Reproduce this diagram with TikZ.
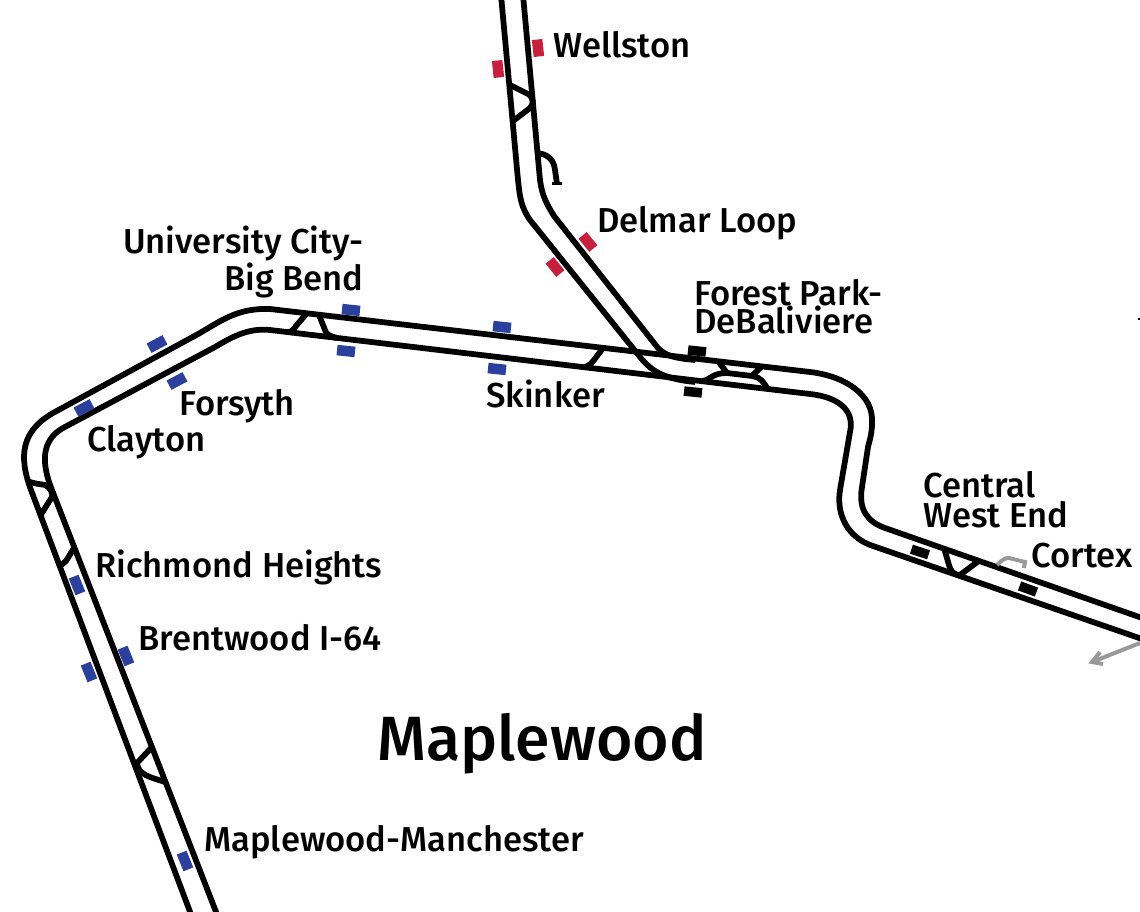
\documentclass[tikz,border=0pt]{standalone}
\usepackage{fontspec}
\setmainfont{Fira Sans Medium}
\definecolor{lineblue}{HTML}{2B3F9C}
\definecolor{linered}{HTML}{C8203C}
\definecolor{spurgray}{HTML}{999999}
\tikzset{
    TR/.style ={line width=0.115cm, black},
    SP/.style ={line width=0.08cm, spurgray},
    STB/.style ={rectangle, minimum width=0.36cm, minimum height=0.21cm, inner sep=0pt, fill=lineblue},
    STR/.style ={rectangle, minimum width=0.34cm, minimum height=0.21cm, inner sep=0pt, fill=linered},
    STK/.style ={rectangle, minimum width=0.36cm, minimum height=0.19cm, inner sep=0pt, fill=black},
    LB/.style ={font=\fontsize{19.7}{22}\selectfont, anchor=base west, inner sep=0pt},
    LL/.style ={font=\fontsize{19.7}{19.4}\selectfont, inner sep=0pt}
}
\begin{document}
\begin{tikzpicture}[x=0.02cm,y=-0.02cm]
    \useasboundingbox (0,0) rectangle (1140,912);
    % main line
    \draw[TR] (192,917) -- (31,490) .. controls (18,455) and (22,431) .. (53,413) -- (200,333)
        .. controls (225,318) and (240,308) .. (270,309) -- (810,372)
        .. controls (845,376) and (874,395) .. (872,423) .. controls (872,435) and (869,442) .. (868,447)
        -- (862,487) .. controls (858,510) and (868,522) .. (885,528) -- (1145,619);
    \draw[TR] (218,917) -- (52,490) .. controls (42,465) and (40,441) .. (63,428) -- (215,347)
        .. controls (235,335) and (250,328) .. (270,330) -- (810,394)
        .. controls (838,397) and (855,410) .. (850,432) -- (840,490)
        .. controls (836,515) and (848,538) .. (873,546) -- (1145,640);
    % north branch
    \draw[TR] (501,-5) -- (518,180) .. controls (520,198) and (521,207) .. (530,220) -- (640,357)
        .. controls (652,372) and (665,379) .. (695,382);
    \draw[TR] (523,-5) -- (540,180) .. controls (542,195) and (546,203) .. (554,216) -- (658,348)
        .. controls (665,355) and (672,358) .. (695,360);
    % crossovers
    \draw[TR] (510,85) -- (528,94) .. controls (534,98) and (534,104) .. (530,108) -- (513,121);
    \draw[TR] (537,153) .. controls (548,154) and (554,160) .. (555,170) -- (557,184);
    \draw[TR,line width=0.06cm] (552,184) -- (562,184);
    \draw[TR] (603,348) -- (594,360) .. controls (592,363) and (590,365) .. (585,367);
    \draw[TR] (703,381) .. controls (711,379) and (713,373) .. (727,373) -- (752,376);
    \draw[TR] (718,361) -- (727,373);
    \draw[TR] (752,376) -- (762,366);
    \draw[TR] (752,376) .. controls (762,378) and (762,381) .. (768,389);
    \draw[TR] (288,332) .. controls (292,332) and (294,329) .. (296,326) -- (307,313);
    \draw[TR] (319,315) -- (325,330) .. controls (326,334) and (329,336) .. (337,338);
    \draw[TR] (27,481) .. controls (35,484) and (40,484) .. (45,485) .. controls (50,487) and (53,493) .. (52,497) -- (40,516);
    \draw[TR] (74,548) -- (66,561) -- (59,567);
    \draw[TR] (152,747) -- (137,763) .. controls (138,775) and (150,777) .. (165,782);
    \draw[TR] (944,548) -- (949,565) .. controls (951,572) and (954,575) .. (960,575) -- (980,560);
    % gray spurs
    \draw[SP] (997,565) .. controls (1003,559) and (1007,556) .. (1013,559) -- (1025,562) -- (1024,568);
    \draw[SP] (1140,643) -- (1092,662);
    \draw[SP] (1100,652) -- (1092,662) -- (1103,664);
    \draw[black,line width=0.04cm] (1138,319.5) -- (1140,319.5);
    % stations
    \node[STR,rotate=-84] (wellstonE) at (538,48) {};
    \node[STR,rotate=-84] (wellstonW) at (498,69) {};
    \node[STR,rotate=-51] (delmarE) at (588,242) {};
    \node[STR,rotate=-51] (delmarW) at (555,267) {};
    \node[STK,rotate=-6] (forestN) at (697,351) {};
    \node[STK,rotate=-6] (forestS) at (693,392) {};
    \node[STK,rotate=-18] (centralN) at (920,552) {};
    \node[STK,rotate=-20] (cortexS) at (1028,589) {};
    \node[STB,rotate=-6] (bigbendN) at (351,310) {};
    \node[STB,rotate=-6] (bigbendS) at (346,351) {};
    \node[STB,rotate=-6] (skinkerN) at (502,327) {};
    \node[STB,rotate=-6] (skinkerS) at (497,369) {};
    \node[STB,rotate=28] (forsythN) at (157,344) {};
    \node[STB,rotate=28] (forsythS) at (177,381) {};
    \node[STB,rotate=28] (claytonN) at (84,408) {};
    \node[STB,rotate=-68] (richmond) at (77,585) {};
    \node[STB,rotate=-68] (brentE) at (126,656) {};
    \node[STB,rotate=-68] (brentW) at (89,672) {};
    \node[STB,rotate=-68] (manchester) at (185,861) {};
    % labels
    \node[LB] (wellston) at (553,58) {Wellston};
    \node[LB] (delmar) at (597,233) {Delmar Loop};
    \node[LL,align=right,anchor=east] (bigbend) at (364,262) {University City-\\Big Bend};
    \node[LL,align=left,anchor=west] (forest) at (694,307) {Forest Park-\\[-0.12cm]DeBaliviere};
    \node[LB] (skinker) at (486,407) {Skinker};
    \node[LB] (forsyth) at (179,416) {Forsyth};
    \node[LB] (clayton) at (87,451) {Clayton};
    \node[LL,align=left,anchor=west] (central) at (923,500) {Central\\[-0.08cm]West End};
    \node[LB] (cortex) at (1031,567) {Cortex};
    \node[LB] (richmondL) at (95,577) {Richmond Heights};
    \node[LB] (brentwood) at (138,650) {Brentwood I-64};
    \node[LB] (manchesterL) at (204,851) {Maplewood-Manchester};
    \node[LB,font=\fontsize{35.6}{38}\selectfont] (maplewood) at (377,760) {Maplewood};
\end{tikzpicture}
\end{document}
